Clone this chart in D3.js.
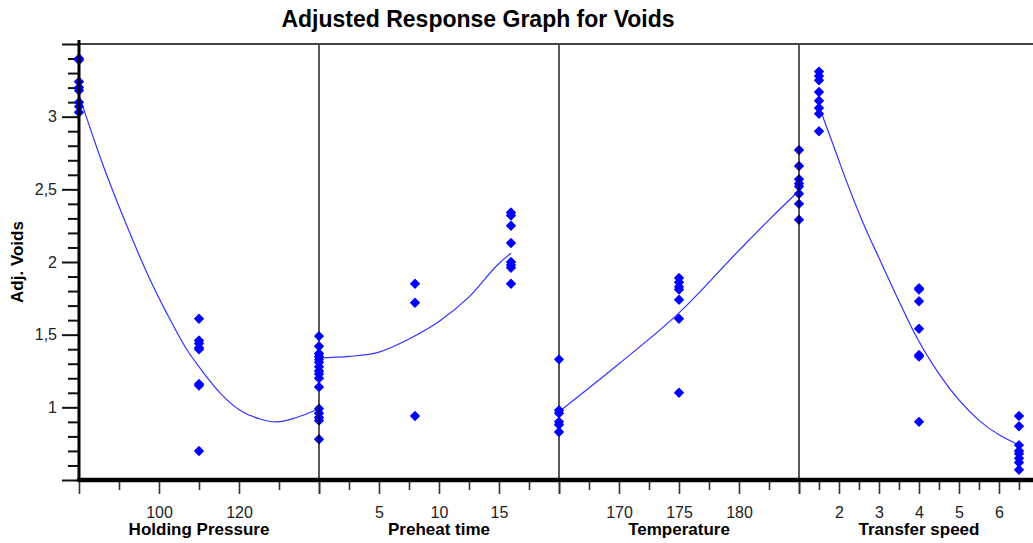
<!DOCTYPE html>
<html><head><meta charset="utf-8">
<script src="https://cdn.jsdelivr.net/npm/d3@7"></script>
<style>body{margin:0;background:#fff}svg{display:block}text{font-family:"Liberation Sans",Arial,sans-serif}</style>
</head><body><svg id="c" width="1033" height="543"></svg>
<script>
// ---- data ----
const factors = ["Holding Pressure","Preheat time","Temperature","Transfer speed"];
const domains = [[80,140],[0,20],[165,185],[1,7]];
const majorTicks = [[80,100,120,140],[0,5,10,15,20],[165,170,175,180,185],[1,2,3,4,5,6,7]];
const minorTicks = [[90,110,130],[2.5,7.5,12.5,17.5],[167.5,172.5,177.5,182.5],[1.5,2.5,3.5,4.5,5.5,6.5]];
const tickLabels = [[100,120],[5,10,15],[170,175,180],[2,3,4,5,6]];
const yMajor = [0.5,1,1.5,2,2.5,3,3.5];
const yLabels = [1,1.5,2,2.5,3];
const yMinor = [0.6,0.7,0.8,0.9,1.1,1.2,1.3,1.4,1.6,1.7,1.8,1.9,2.1,2.2,2.3,2.4,2.6,2.7,2.8,2.9,3.1,3.2,3.3,3.4];

const holdPoints = [[80,3.40],[80,3.39],[80,3.24],[80,3.20],[80,3.18],[80,3.10],[80,3.07],[80,3.03],
  [110,1.61],[110,1.46],[110,1.44],[110,1.41],[110,1.40],[110,1.16],[110,1.15],[110,0.70],
  [140,0.99],[140,0.96],[140,0.93],[140,0.91],[140,0.78]];
const preheatPoints = [[0,1.49],[0,1.42],[0,1.37],[0,1.35],[0,1.33],[0,1.31],[0,1.28],[0,1.25],[0,1.23],[0,1.20],[0,1.14],
  [8,1.85],[8,1.72],[8,0.94],
  [16,2.34],[16,2.32],[16,2.25],[16,2.13],[16,2.00],[16,1.98],[16,1.96],[16,1.85]];
const tempPoints = [[165,1.33],[165,0.98],[165,0.96],[165,0.90],[165,0.88],[165,0.83],
  [175,1.89],[175,1.86],[175,1.83],[175,1.81],[175,1.74],[175,1.61],[175,1.10],
  [185,2.77],[185,2.66],[185,2.57],[185,2.54],[185,2.52],[185,2.47],[185,2.40],[185,2.29]];
const transferPoints = [[1.5,3.31],[1.5,3.28],[1.5,3.25],[1.5,3.17],[1.5,3.11],[1.5,3.06],[1.5,3.02],[1.5,2.90],
  [4,1.82],[4,1.81],[4,1.73],[4,1.54],[4,1.36],[4,1.35],[4,0.90],
  [6.5,0.94],[6.5,0.87],[6.5,0.74],[6.5,0.70],[6.5,0.68],[6.5,0.65],[6.5,0.62],[6.5,0.57]];

const holdCurve = [[80,3.15],[85.7,2.69],[91.5,2.28],[97.75,1.88],[101.9,1.65],[106.9,1.40],[110.25,1.27],[115.25,1.10],[120.25,0.98],[125.25,0.92],[129.4,0.90],[134.4,0.93],[140,0.99]];
const preheatCurve = [[0,1.34],[2.5,1.35],[5,1.38],[7.5,1.47],[10,1.59],[12.5,1.76],[15,1.99],[16,2.06]];
const tempCurve = [[165,0.97],[170,1.30],[175,1.65],[180,2.08],[182.5,2.29],[185,2.49]];
const transferCurve = [[1.5,3.07],[1.85,2.81],[2.1,2.62],[2.6,2.27],[3.03,2.01],[3.57,1.69],[3.85,1.53],[4.5,1.23],[5.5,0.91],[6.5,0.74]];

const allPoints = [holdPoints, preheatPoints, tempPoints, transferPoints];
const allCurves = [holdCurve, preheatCurve, tempCurve, transferCurve];

// ---- layout ----
const svg = d3.select("#c");
const plotL = 79, plotT = 44, plotB = 480, panelW = 240;
const y = d3.scaleLinear().domain([0.5,3.5]).range([plotB, plotT]);
const fmt = v => String(v).replace(".", ",");

svg.append("text").attr("x",478).attr("y",27).attr("text-anchor","middle")
  .attr("font-size",23).attr("font-weight","bold").text("Adjusted Response Graph for Voids");

svg.append("text").attr("transform","translate(23,262) rotate(-90)").attr("text-anchor","middle")
  .attr("font-size",17).attr("font-weight","bold").text("Adj. Voids");

// y axis ticks
const yMin = svg.append("g").attr("transform",`translate(${plotL},0)`)
  .call(d3.axisLeft(y).tickValues(yMinor).tickSize(11).tickFormat(""));
const yMaj = svg.append("g").attr("transform",`translate(${plotL},0)`)
  .call(d3.axisLeft(y).tickValues(yMajor).tickSize(17).tickPadding(5)
    .tickFormat(v => yLabels.includes(v) ? fmt(v) : ""));
[yMin,yMaj].forEach(g=>{g.select(".domain").remove();
  g.selectAll("line").attr("stroke","#111").attr("stroke-width",2);});
yMaj.selectAll("text").attr("font-size",16).attr("fill","#222")
  .attr("font-family","Liberation Sans, Arial, sans-serif");

factors.forEach((name,i)=>{
  const x0 = plotL + i*panelW;
  const x = d3.scaleLinear().domain(domains[i]).range([x0, x0+panelW]);
  const gMin = svg.append("g").attr("transform",`translate(0,${plotB})`)
    .call(d3.axisBottom(x).tickValues(minorTicks[i]).tickSize(10).tickFormat(""));
  const gMaj = svg.append("g").attr("transform",`translate(0,${plotB})`)
    .call(d3.axisBottom(x).tickValues(majorTicks[i]).tickSize(14)
      .tickFormat(v => tickLabels[i].includes(v) ? String(v) : ""));
  [gMin,gMaj].forEach(g=>{g.select(".domain").remove();
    g.selectAll("line").attr("stroke","#333").attr("stroke-width",1.6);});
  gMaj.selectAll("text").attr("y",38).attr("dy",0).attr("font-size",16).attr("fill","#222")
    .attr("font-family","Liberation Sans, Arial, sans-serif");
  svg.append("text").attr("x",x0+panelW/2).attr("y",535).attr("text-anchor","middle")
    .attr("font-size",17).attr("font-weight","bold").text(name);

  if (i>0) svg.append("line").attr("x1",x0).attr("x2",x0).attr("y1",plotT).attr("y2",plotB)
    .attr("stroke","#000").attr("stroke-width",1.3);

  const line = d3.line().x(d=>x(d[0])).y(d=>y(d[1])).curve(d3.curveMonotoneX);
  svg.append("path").datum(allCurves[i]).attr("d",line).attr("fill","none")
    .attr("stroke","#3333ff").attr("stroke-width",1.2);

  svg.append("g").selectAll("path").data(allPoints[i]).join("path")
    .attr("transform",d=>`translate(${x(d[0])},${y(d[1])}) rotate(45)`)
    .attr("d", d3.symbol(d3.symbolSquare, 36)())
    .attr("fill","#0000ff").attr("stroke","#0000ff").attr("stroke-width",1.4).attr("stroke-linejoin","round");
});

// frame
svg.append("line").attr("x1",plotL).attr("x2",1033).attr("y1",plotT).attr("y2",plotT)
  .attr("stroke","#444").attr("stroke-width",2);
svg.append("line").attr("x1",plotL).attr("x2",plotL).attr("y1",plotT-4).attr("y2",plotB)
  .attr("stroke","#000").attr("stroke-width",3);
svg.append("line").attr("x1",plotL).attr("x2",1033).attr("y1",plotB).attr("y2",plotB)
  .attr("stroke","#000").attr("stroke-width",4.5).attr("stroke-linecap","round");
</script></body></html>
